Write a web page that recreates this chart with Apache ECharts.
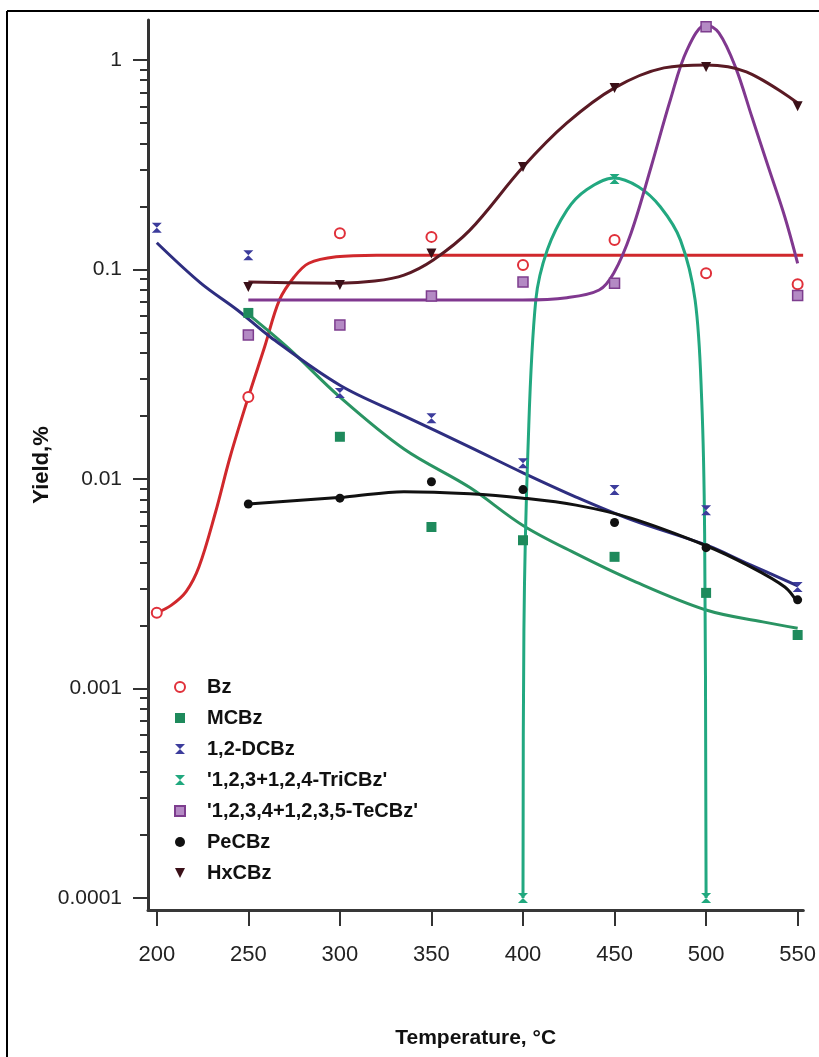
<!DOCTYPE html>
<html><head><meta charset="utf-8">
<script src="https://cdn.jsdelivr.net/npm/echarts@6/dist/echarts.min.js"></script>
<style>html,body{margin:0;padding:0;background:#fff}#c{width:819px;height:1057px}</style>
</head><body><div id="c"></div>
<script>
// ---- data ----
const temperatures = [200, 250, 300, 350, 400, 450, 500, 550];
const xTickValues = [200, 250, 300, 350, 400, 450, 500, 550];
const yTickValues = [0.0001, 0.001, 0.01, 0.1, 1];
const yTickLabels = ['0.0001', '0.001', '0.01', '0.1', '1'];
const yMinorTickValues = [
  0.0002, 0.0003, 0.0004, 0.0005, 0.0006, 0.0007, 0.0008, 0.0009,
  0.002, 0.003, 0.004, 0.005, 0.006, 0.007, 0.008, 0.009,
  0.02, 0.03, 0.04, 0.05, 0.06, 0.07, 0.08, 0.09,
  0.2, 0.3, 0.4, 0.5, 0.6, 0.7, 0.8, 0.9
];
const seriesNames = ['Bz', 'MCBz', '1,2-DCBz', "'1,2,3+1,2,4-TriCBz'", "'1,2,3,4+1,2,3,5-TeCBz'", 'PeCBz', 'HxCBz'];

// measured yields (%) at each temperature
const bzYield   = [0.0023, 0.0246, 0.149, 0.143, 0.105, 0.138, 0.096, 0.085];
const mcbzYield = [null, 0.062, 0.0159, 0.0059, 0.0051, 0.00425, 0.00286, 0.0018];
const dcbzYield = [0.158, 0.117, 0.0257, 0.0195, 0.0119, 0.00885, 0.0071, 0.00305];
const tricbzYield = [null, null, null, null, 0.0001, 0.27, 0.0001, null];
const tecbzYield = [null, 0.0487, 0.0543, 0.0747, 0.087, 0.086, 1.44, 0.075];
const pecbzYield = [null, 0.0076, 0.0081, 0.0097, 0.0089, 0.0062, 0.0047, 0.00265];
const hxcbzYield = [null, 0.0825, 0.0843, 0.119, 0.308, 0.735, 0.926, 0.60];

// fitted curves: [temperature, yield]
const bzFit = [[200,0.0023],[208,0.0025],[216,0.0029],[223,0.0038],[232,0.0069],[240,0.0127],[250,0.0246],[259,0.043],[267,0.0715],[275,0.092],[283,0.107],[298,0.115],[320,0.117],[400,0.117],[553,0.117]];
const mcbzFit = [[250,0.061],[272,0.042],[300,0.0246],[335,0.0139],[371,0.0091],[400,0.0060],[429,0.0044],[459,0.0033],[500,0.00237],[531,0.00208],[550,0.00194]];
const dcbzFit = [[200,0.134],[224,0.086],[244,0.064],[262,0.0476],[300,0.028],[335,0.02],[371,0.0142],[400,0.0107],[429,0.0082],[459,0.0064],[500,0.00484],[522,0.00397],[550,0.00309]];
const tricbzFit = [[400,0.0001],[400.5,0.0019],[402.7,0.0137],[407,0.0715],[413.3,0.124],[424,0.192],[434.7,0.24],[449.6,0.273],[463,0.248],[475,0.199],[486,0.138],[494,0.0715],[497.6,0.0238],[499.2,0.0055],[500,0.0001]];
const tecbzFit = [[250,0.0715],[300,0.0715],[350,0.0715],[400,0.0715],[424,0.0733],[441.6,0.0798],[449.6,0.0962],[459,0.149],[470,0.309],[480.5,0.645],[489.6,1.116],[500,1.47],[507,1.346],[516,0.926],[525,0.535],[534,0.308],[543,0.178],[550,0.107]];
const pecbzFit = [[250,0.0076],[303,0.0082],[335,0.0087],[371,0.0085],[400,0.0081],[429,0.0075],[459,0.0065],[500,0.0048],[522,0.0039],[543,0.00305],[550,0.00256]];
const hxcbzFit = [[250,0.087],[300,0.086],[319,0.088],[335,0.094],[351,0.111],[371,0.154],[400,0.308],[424,0.5],[450,0.735],[477,0.916],[500,0.946],[522,0.877],[550,0.623]];

// ---- styling ----
const FONT = "'Liberation Sans', Arial, sans-serif";
const HOURGLASS = 'path://M0,0L10,0L0,10L10,10Z';
const TRI_DOWN = 'path://M0,0L10,0L5,10Z';
const SQUARE = 'path://M0,0L10,0L10,10L0,10Z';

const styles = [
  { symbol: 'emptyCircle', size: 10, item: { color: '#e0303a', borderWidth: 2 }, line: '#d0282c' },
  { symbol: SQUARE, size: 10, item: { color: '#1e8a5c' }, line: '#2a9463' },
  { symbol: HOURGLASS, size: 10, item: { color: '#3c3c9c' }, line: '#2e2e80' },
  { symbol: HOURGLASS, size: 10, item: { color: '#20a87e' }, line: '#22a880' },
  { symbol: SQUARE, size: 10, item: { color: '#b48ac4', borderColor: '#7d3d8e', borderWidth: 1.5 }, line: '#80388f' },
  { symbol: 'circle', size: 9, item: { color: '#111' }, line: '#111' },
  { symbol: TRI_DOWN, size: 10, item: { color: '#3a1018' }, line: '#5a1a24' }
];
const yields = [bzYield, mcbzYield, dcbzYield, tricbzYield, tecbzYield, pecbzYield, hxcbzYield];
const fits = [bzFit, mcbzFit, dcbzFit, tricbzFit, tecbzFit, pecbzFit, hxcbzFit];

const yMin = 8.77e-5, yMax = 1.55;

const series = [];
fits.forEach((f, i) => {
  series.push({
    name: seriesNames[i] + ' fit', type: 'line', data: f, showSymbol: false, symbol: 'none',
    smooth: 0.35,
    lineStyle: { color: styles[i].line, width: 3 }, silent: true, z: 2
  });
});
yields.forEach((ys, i) => {
  series.push({
    name: seriesNames[i], type: 'scatter',
    data: temperatures.map((t, k) => ys[k] == null ? null : [t, ys[k]]).filter(d => d),
    symbol: styles[i].symbol, symbolSize: styles[i].size,
    itemStyle: Object.assign({ opacity: 1 }, styles[i].item), z: 3
  });
});

const chart = echarts.init(document.getElementById('c'), null, { renderer: 'canvas' });
chart.setOption({
  animation: false,
  backgroundColor: '#fff',
  grid: { left: 148, right: 0, top: 20, bottom: 147, containLabel: false },
  xAxis: {
    type: 'value', min: 195.2, max: 553.1,
    name: 'Temperature, °C', nameLocation: 'middle', nameGap: 118,
    nameTextStyle: { fontFamily: FONT, fontSize: 21, fontWeight: 'bold', color: '#111' },
    axisLine: { show: true, lineStyle: { color: '#383838', width: 3 } },
    axisTick: { show: true, length: 16, customValues: xTickValues, lineStyle: { color: '#333', width: 2 } },
    axisLabel: { customValues: xTickValues, margin: 34, fontFamily: FONT, fontSize: 22, color: '#222' },
    splitLine: { show: false }
  },
  yAxis: [{
    type: 'log', logBase: 10, min: yMin, max: yMax, position: 'left',
    name: 'Yield,%', nameLocation: 'middle', nameGap: 95, nameRotate: 90, nameMoveOverlap: false,
    nameTextStyle: { fontFamily: FONT, fontSize: 22, fontWeight: 'bold', color: '#111' },
    axisLine: { show: true, lineStyle: { color: '#333', width: 3 } },
    axisTick: { show: true, length: 15, customValues: yTickValues, lineStyle: { color: '#333', width: 2 } },
    axisLabel: {
      customValues: yTickValues, margin: 26, fontFamily: FONT, fontSize: 21, color: '#222',
      formatter: v => {
        const idx = yTickValues.findIndex(t => Math.abs(Math.log10(t) - Math.log10(v)) < 0.01);
        return idx >= 0 ? yTickLabels[idx] : '';
      }
    },
    splitLine: { show: false }
  }, {
    type: 'log', logBase: 10, min: yMin, max: yMax, position: 'left', offset: 0,
    axisLine: { show: false },
    axisTick: { show: true, length: 8, customValues: yMinorTickValues, lineStyle: { color: '#333', width: 2 } },
    axisLabel: { show: false },
    splitLine: { show: false }
  }],
  legend: {
    orient: 'vertical', left: 174, top: 677, padding: 0,
    itemWidth: 44, itemHeight: 10, itemGap: 11, symbolKeepAspect: true,
    textStyle: { fontFamily: FONT, fontSize: 20, fontWeight: 'bold', color: '#111', lineHeight: 20 },
    data: seriesNames.map((n, i) => ({ name: n, icon: styles[i].symbol }))
  },
  graphic: [
    { type: 'line', shape: { x1: 7, y1: 11, x2: 819, y2: 11 }, style: { stroke: '#000', lineWidth: 2 } },
    { type: 'line', shape: { x1: 7, y1: 11, x2: 7, y2: 1057 }, style: { stroke: '#000', lineWidth: 2 } }
  ],
  series: series
});
</script>
</body></html>
